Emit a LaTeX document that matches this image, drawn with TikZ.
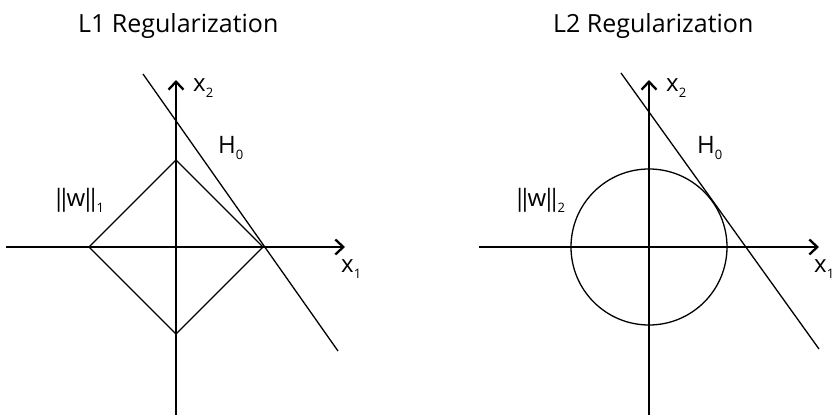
\documentclass[tikz,border=0pt]{standalone}
\usepackage{fontspec}
\setmainfont{Open Sans}
\usetikzlibrary{arrows.meta}
\newcommand{\sbs}[1]{\raisebox{-0.45ex}{\fontsize{13}{13}\selectfont #1}}
\newcommand{\vbar}{\kern-4pt|\kern-4pt}
\newcommand{\nrm}[1]{\vbar\vbar w\vbar\vbar\kern1pt\sbs{#1}}
\begin{document}
\begin{tikzpicture}[x=1pt,y=1pt,>={Straight Barb[length=8pt,width=15pt]},
    axis/.style={line width=2.3pt,->},
    curve/.style={line width=1.3pt},
    lbl/.style={font=\fontsize{24}{28}\selectfont,inner sep=0pt,anchor=base west},
    ttl/.style={font=\fontsize{25}{30}\selectfont,inner sep=0pt,anchor=base west}]
    \useasboundingbox (0,0) rectangle (836,415);
    % --- (a) L1 ball touching H0 at a corner
    \begin{scope}[shift={(176,168)}]
      \draw[curve] (-87,0) -- (0,87) -- (87,0) -- (0,-87) -- cycle;
      \draw[axis] (0,-170) -- (0,167);
      \draw[axis] (-170,0) -- (169,0);
      \draw[curve] (-33,173) -- (162,-104);
      \node[ttl] (ttlA) at (-98,214) {L1 Regularization};
      \node[lbl] (xtwoA) at (17,155) {x\sbs{2}};
      \node[lbl] (hA) at (42,93) {H\sbs{0}};
      \node[lbl] (normA) at (-120,40) {\nrm{1}};
      \node[lbl] (xoneA) at (165,-26) {x\sbs{1}};
    \end{scope}
    % --- (b) L2 ball tangent to H0
    \begin{scope}[shift={(649,168)}]
      \draw[curve] (0,0) circle (78);
      \draw[axis] (0,-170) -- (0,167);
      \draw[axis] (-170,0) -- (170,0);
      \draw[curve] (-28,174) -- (170,-102);
      \node[ttl] (ttlB) at (-96,214) {L2 Regularization};
      \node[lbl] (xtwoB) at (17,155) {x\sbs{2}};
      \node[lbl] (hB) at (48,93) {H\sbs{0}};
      \node[lbl] (normB) at (-132,40) {\nrm{2}};
      \node[lbl] (xoneB) at (165,-26) {x\sbs{1}};
    \end{scope}
  \end{tikzpicture}
\end{document}
